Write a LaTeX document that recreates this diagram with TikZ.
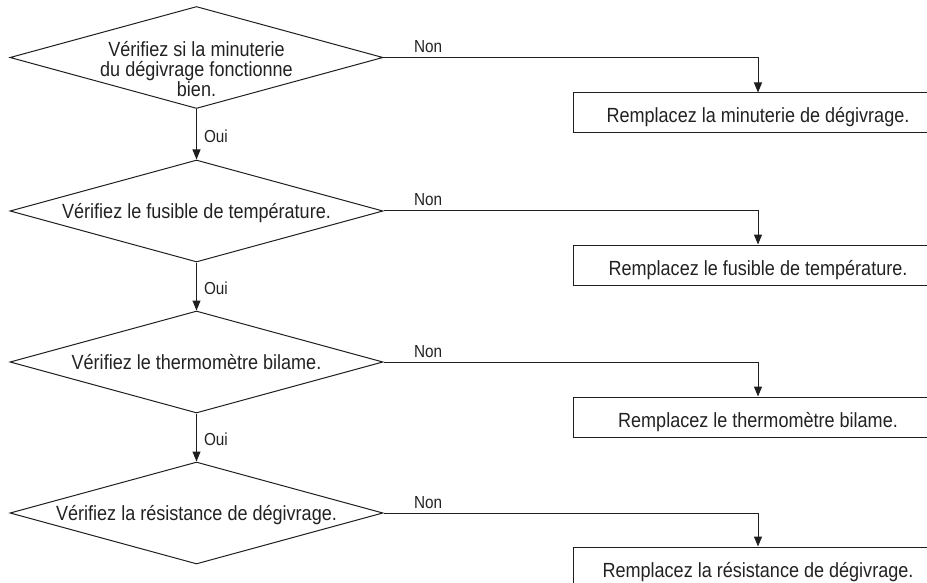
\documentclass[tikz,border=0pt]{standalone}
\usepackage{fontspec}
\setmainfont{Liberation Sans}[FakeStretch=0.88]
\usetikzlibrary{shapes.geometric,arrows.meta}
\definecolor{ink}{HTML}{1E1E1E}
\definecolor{txt}{HTML}{222222}
\begin{document}
\begin{tikzpicture}[x=1pt,y=-1pt,
  dia/.style={diamond, draw=ink, line width=1pt, minimum width=373pt, minimum height=102pt, inner sep=0pt},
  dtext/.style={text=txt, inner sep=0pt, font=\fontsize{20.5}{20}\selectfont},
  box/.style={rectangle, draw=ink, line width=1pt, minimum width=370pt, inner xsep=0pt, inner ysep=0pt,
              text height=30pt, text depth=10pt, text=txt, font=\fontsize{20.5}{20}\selectfont},
  conn/.style={draw=ink, line width=1pt, -{Triangle[length=10pt,width=8pt]}},
  lab/.style={text=txt, inner sep=0pt, font=\fontsize{17.4}{18}\selectfont}]
\useasboundingbox (0,0) rectangle (927,583);
\clip (0,0) rectangle (927,583);

% decisions
\node[dia] (d1) at (196.5,57.5) {};
\node[dia] (d2) at (196.5,211) {};
\node[dia] (d3) at (196.5,362) {};
\node[dia] (d4) at (196.5,513) {};

\node[dtext, align=center, anchor=base] (t1) at (196.5,96.7) {Vérifiez si la minuterie\\du dégivrage fonctionne\\bien.};
\node[dtext, anchor=base] (t2) at (196.5,218.3) {Vérifiez le fusible de température.};
\node[dtext, anchor=base] (t3) at (196.5,369.3) {Vérifiez le thermomètre bilame.};
\node[dtext, anchor=base] (t4) at (196.5,520.3) {Vérifiez la résistance de dégivrage.};

% actions
\node[box] (b1) at (758,113) {Remplacez la minuterie de dégivrage.};
\node[box] (b2) at (758,265) {Remplacez le fusible de température.};
\node[box] (b3) at (758,417) {Remplacez le thermomètre bilame.};
\node[box] (b4) at (758,567) {Remplacez la résistance de dégivrage.};

% Non branches
\draw[conn] (d1.east) -| (b1.north) node[lab, pos=0, anchor=base west, xshift=30pt, yshift=5pt] (n1) {Non};
\draw[conn] (d2.east) -| (b2.north) node[lab, pos=0, anchor=base west, xshift=30pt, yshift=5pt] (n2) {Non};
\draw[conn] (d3.east) -| (b3.north) node[lab, pos=0, anchor=base west, xshift=30pt, yshift=5pt] (n3) {Non};
\draw[conn] (d4.east) -| (b4.north) node[lab, pos=0, anchor=base west, xshift=30pt, yshift=5pt] (n4) {Non};

% Oui branches
\draw[conn] (d1.south) -- (d2.north) node[lab, midway, anchor=west, xshift=7pt, yshift=-2pt] (o1) {Oui};
\draw[conn] (d2.south) -- (d3.north) node[lab, midway, anchor=west, xshift=7pt, yshift=-2pt] (o2) {Oui};
\draw[conn] (d3.south) -- (d4.north) node[lab, midway, anchor=west, xshift=7pt, yshift=-2pt] (o3) {Oui};
\end{tikzpicture}
\end{document}
